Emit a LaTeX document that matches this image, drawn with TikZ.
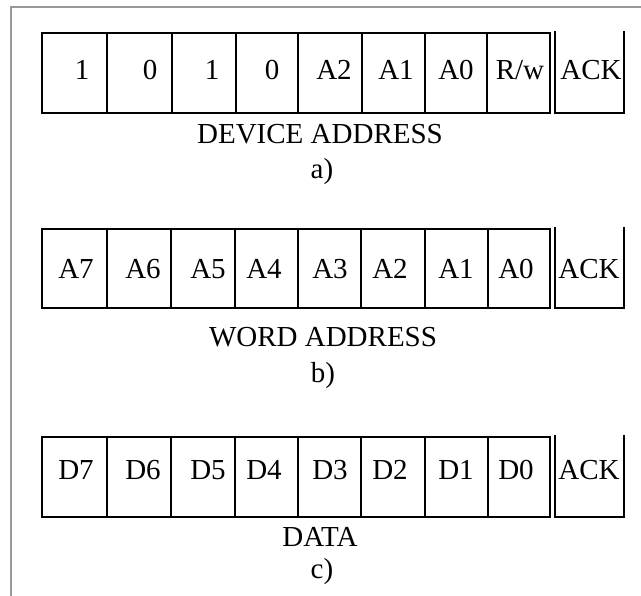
\documentclass[tikz,border=0pt]{standalone}
\usepackage{fontspec}
\setmainfont{Liberation Serif}
\begin{document}
\begin{tikzpicture}[x=1pt,y=-1pt,
  boxline/.style={line width=2.2pt, line join=miter},
  frameline/.style={draw=black!40, line width=1.5pt},
  lbl/.style={anchor=base, inner sep=0pt, font=\fontsize{29}{34}\selectfont},
  captext/.style={anchor=base, inner sep=0pt, font=\fontsize{29}{34}\selectfont}]
\useasboundingbox (0,0) rectangle (641,596);
\draw[frameline] (641,7) -- (11,7) -- (11,596);

% ---- row a ----
\draw[boxline] (42,33) rectangle (550,113);
\foreach \x in {107,172,236,298,362,425,487} \draw[boxline] (\x,33) -- (\x,113);
\draw[boxline] (555,31) -- (555,113) -- (624,113) -- (624,31);
\node[lbl] (ra7) at (82,80) {1};
\node[lbl] (ra6) at (150,80) {0};
\node[lbl] (ra5) at (212,80) {1};
\node[lbl] (ra4) at (272,80) {0};
\node[lbl] (ra3) at (334,80) {A2};
\node[lbl] (ra2) at (396,80) {A1};
\node[lbl] (ra1) at (456,80) {A0};
\node[lbl] (ra0) at (520,80) {R/w};
\node[lbl] (rack) at (591,80) {ACK};
\node[captext] (tdev) at (320,144) {DEVICE ADDRESS};
\node[captext] (ta) at (322,179) {a)};

% ---- row b ----
\draw[boxline] (42,229) rectangle (550,308);
\foreach \x in {107,171,235,298,361,425,488} \draw[boxline] (\x,229) -- (\x,308);
\draw[boxline] (555,227) -- (555,308) -- (624,308) -- (624,227);
\node[lbl] (rb7) at (76,279) {A7};
\node[lbl] (rb6) at (143,279) {A6};
\node[lbl] (rb5) at (208,279) {A5};
\node[lbl] (rb4) at (264,279) {A4};
\node[lbl] (rb3) at (330,279) {A3};
\node[lbl] (rb2) at (390,279) {A2};
\node[lbl] (rb1) at (456,279) {A1};
\node[lbl] (rb0) at (516,279) {A0};
\node[lbl] (rback) at (589,279) {ACK};
\node[captext] (tword) at (323,347) {WORD ADDRESS};
\node[captext] (tb) at (323,383) {b)};

% ---- row c ----
\draw[boxline] (42,437) rectangle (550,517);
\foreach \x in {107,171,235,298,361,425,488} \draw[boxline] (\x,437) -- (\x,517);
\draw[boxline] (555,435) -- (555,517) -- (624,517) -- (624,435);
\node[lbl] (rc7) at (76,480) {D7};
\node[lbl] (rc6) at (143,480) {D6};
\node[lbl] (rc5) at (208,480) {D5};
\node[lbl] (rc4) at (264,480) {D4};
\node[lbl] (rc3) at (330,480) {D3};
\node[lbl] (rc2) at (390,480) {D2};
\node[lbl] (rc1) at (456,480) {D1};
\node[lbl] (rc0) at (516,480) {D0};
\node[lbl] (rcack) at (589,480) {ACK};
\node[captext] (tdata) at (320,547) {DATA};
\node[captext] (tc) at (322,579) {c)};
\end{tikzpicture}
\end{document}
